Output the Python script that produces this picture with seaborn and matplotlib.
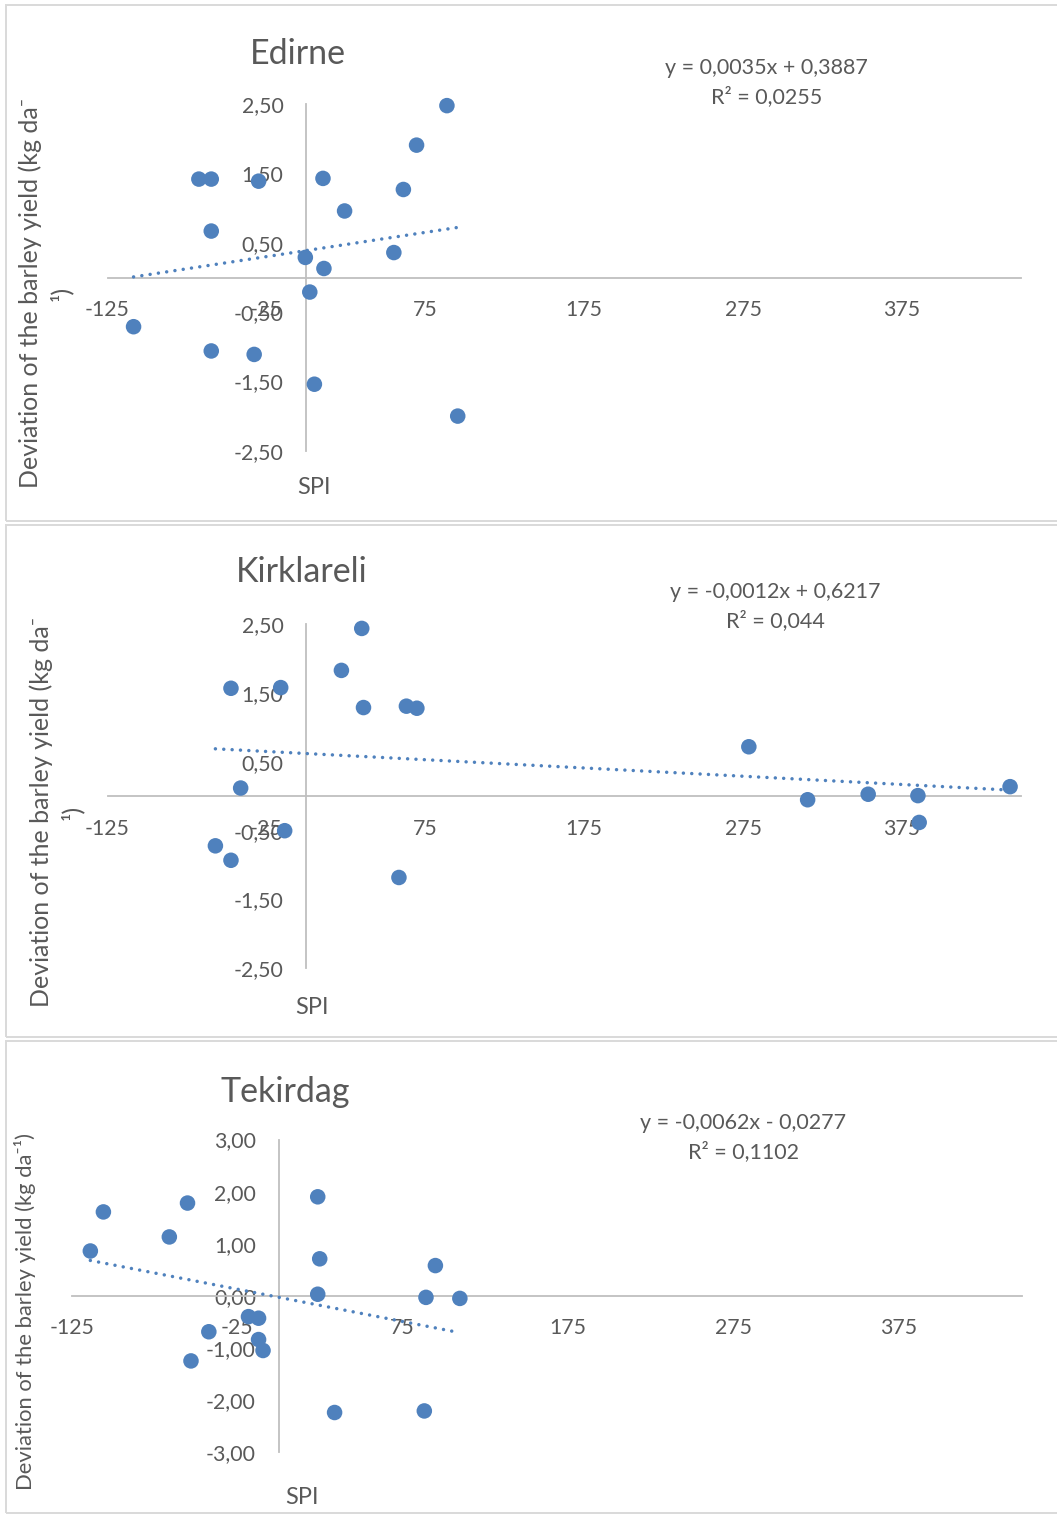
import numpy as np
import pandas as pd
import matplotlib
matplotlib.use("Agg")
import matplotlib.pyplot as plt
from matplotlib.patches import Rectangle
import seaborn as sns

# ---- data: SPI vs deviation of barley yield, one series per province ----
provinces = ["Edirne", "Kirklareli", "Tekirdag"]

edirne_spi = [-108.6, -67.5, -59.7, -29.9, -59.7, -59.7, -32.7, -0.5, 2.3,
              5.2, 10.6, 11.2, 24.2, 55.2, 61.2, 69.5, 88.6, 95.4]
edirne_dev = [-0.71, 1.42, 1.42, 1.39, 0.67, -1.06, -1.11, 0.29, -0.21,
              -1.54, 1.43, 0.13, 0.96, 0.36, 1.27, 1.91, 2.48, -2.00]

kirklareli_spi = [35.0, 22.2, -47.3, -16.0, 36.1, 63.1, 69.7, -41.2, -13.5,
                  -57.1, -47.3, 58.4, 278.6, 315.6, 353.7, 385.0, 385.8, 443.0]
kirklareli_dev = [2.44, 1.83, 1.57, 1.58, 1.29, 1.31, 1.28, 0.12, -0.50,
                  -0.72, -0.93, -1.18, 0.72, -0.05, 0.03, 0.01, -0.38, 0.14]

tekirdag_spi = [-113.9, -106.0, -66.1, -55.1, -42.2, -53.0, -18.2, -12.1, -12.1,
                -9.4, 23.7, 24.9, 23.7, 33.9, 94.9, 89.2, 109.7, 88.2]
tekirdag_dev = [0.86, 1.61, 1.13, 1.78, -0.69, -1.25, -0.40, -0.43, -0.84,
                -1.05, 1.90, 0.71, 0.03, -2.24, 0.58, -0.03, -0.05, -2.21]

# linear trend lines (slope, intercept, R²)
trend_slope = [0.0035, -0.0012, -0.0062]
trend_intercept = [0.3887, 0.6217, -0.0277]
trend_r2 = [0.0255, 0.044, 0.1102]

x_ticks = [-125, -25, 75, 175, 275, 375]
y_ticks_2 = [-2.5, -1.5, -0.5, 0.5, 1.5, 2.5]
y_ticks_3 = [-3, -2, -1, 0, 1, 2, 3]

spi_values = [edirne_spi, kirklareli_spi, tekirdag_spi]
dev_values = [edirne_dev, kirklareli_dev, tekirdag_dev]

# ---- styling ----
sns.set_theme(style="white")
plt.rcParams["font.family"] = ["Lato", "DejaVu Sans"]

BLUE = "#4F81BD"
TEXT = "#595959"
AXIS = "#BFBFBF"
FRAME = "#D9D9D9"

W, H = 1057, 1515
fig = plt.figure(figsize=(W / 100, H / 100), dpi=100)


def fx(px):
    return px / W


def fy(py):
    return 1 - py / H


def dec(v, nd):
    return f"{v:.{nd}f}".replace(".", ",")


# layout of each chart block (pixels)
layout = [
    dict(frame=(4.7, 520.5), plot_x=(107.5, 1021.2), plot_y=(104.25, 450.75),
         ylim=(-2.5, 2.5), yticks=y_ticks_2,
         title_xy=(298, 64), spi_xy=(314, 487),
         ylab_xy=(45.5, 293), ylab_size=18.0,
         ylab="Deviation of the barley yield (kg da\u207b\n\u00b9)",
         eq_x=766.5, eq_y=(74.3, 102.7)),
    dict(frame=(525.0, 1037.3), plot_x=(107.5, 1021.2), plot_y=(624.3, 968.3),
         ylim=(-2.5, 2.5), yticks=y_ticks_2,
         title_xy=(301.7, 581.7), spi_xy=(312, 1007),
         ylab_xy=(57, 812), ylab_size=18.0,
         ylab="Deviation of the barley yield (kg da\u207b\n\u00b9)",
         eq_x=775, eq_y=(598.3, 626.7)),
    dict(frame=(1041.0, 1513.0), plot_x=(72.0, 1022.2), plot_y=(1139.5, 1452.1),
         ylim=(-3, 3), yticks=y_ticks_3,
         title_xy=(284.8, 1101.7), spi_xy=(302, 1498),
         ylab_xy=(25.5, 1312), ylab_size=15.8,
         ylab="Deviation of the barley yield (kg da\u207b\u00b9)",
         eq_x=743, eq_y=(1129.3, 1158.3)),
]

for i, spec in enumerate(layout):
    # chart frame
    top, bottom = spec["frame"]
    fig.patches.append(Rectangle((fx(5.5), fy(bottom)), fx(1100) - fx(5.5), (bottom - top) / H,
                                 transform=fig.transFigure, fill=False,
                                 edgecolor=FRAME, linewidth=1.4, zorder=0))

    x0, x1 = spec["plot_x"]
    y0, y1 = spec["plot_y"]
    ax = fig.add_axes([fx(x0), fy(y1), (x1 - x0) / W, (y1 - y0) / H])
    ax.set_facecolor("none")

    df = pd.DataFrame({"SPI": spi_values[i], "Deviation": dev_values[i]})
    sns.scatterplot(data=df, x="SPI", y="Deviation", ax=ax, color=BLUE,
                    s=125, edgecolor="none", linewidth=0, zorder=4, clip_on=False)

    # dotted linear trend over the data range
    xs = np.array([df["SPI"].min(), df["SPI"].max()])
    ys = trend_slope[i] * xs + trend_intercept[i]
    ax.plot(xs, ys, color=BLUE, linewidth=2.5, linestyle=(0, (0.01, 2.4)),
            dash_capstyle="round", zorder=3, clip_on=False)

    ax.set_xlim(-125, 450)
    ax.set_ylim(*spec["ylim"])

    # axes cross at the origin
    for side in ("top", "right"):
        ax.spines[side].set_visible(False)
    ax.spines["left"].set_position(("data", 0))
    ax.spines["bottom"].set_position(("data", 0))
    for side in ("left", "bottom"):
        ax.spines[side].set_color(AXIS)
        ax.spines[side].set_linewidth(1.3)

    ax.set_xticks(x_ticks)
    ax.set_xticklabels([str(t) for t in x_ticks])
    ax.set_yticks(spec["yticks"])
    ax.set_yticklabels([dec(t, 2) for t in spec["yticks"]])
    ax.tick_params(axis="x", length=0, pad=16.3, labelsize=15.3, labelcolor=TEXT)
    ax.tick_params(axis="y", length=0, pad=16.3, labelsize=15.3, labelcolor=TEXT)
    ax.set_xlabel("")
    ax.set_ylabel("")

    # titles and axis titles
    tx, ty = spec["title_xy"]
    fig.text(fx(tx), fy(ty), provinces[i], ha="center", va="baseline",
             fontsize=24.5, color=TEXT)
    sx, sy = spec["spi_xy"]
    fig.text(fx(sx), fy(sy), "SPI", ha="center", va="center",
             fontsize=17, color=TEXT)
    lx, ly = spec["ylab_xy"]
    fig.text(fx(lx), fy(ly), spec["ylab"], ha="center", va="center",
             rotation=90, multialignment="center", linespacing=1.36,
             fontsize=spec["ylab_size"], color=TEXT)

    # trend equation
    sign = "+" if trend_intercept[i] >= 0 else "-"
    eq = f"y = {dec(trend_slope[i], 4)}x {sign} {dec(abs(trend_intercept[i]), 4)}"
    r2 = "R\u00b2 = " + f"{trend_r2[i]:g}".replace(".", ",")
    fig.text(fx(spec["eq_x"]), fy(spec["eq_y"][0]), eq, ha="center",
             va="baseline", fontsize=15.5, color=TEXT)
    fig.text(fx(spec["eq_x"]), fy(spec["eq_y"][1]), r2, ha="center",
             va="baseline", fontsize=15.5, color=TEXT)

fig.savefig("out.png", dpi=100, facecolor="white")
